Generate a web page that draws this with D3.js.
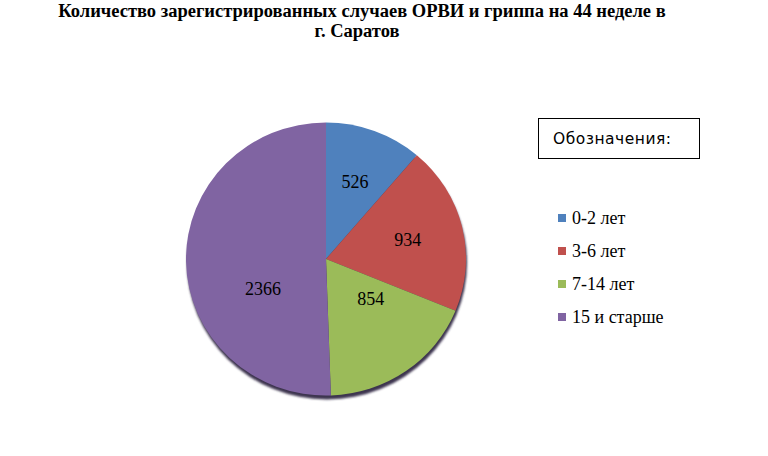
<!DOCTYPE html>
<html>
<head>
<meta charset="utf-8">
<script src="https://cdn.jsdelivr.net/npm/d3@7"></script>
<style>
  body { margin: 0; background: #fff; }
  svg { display: block; }
</style>
</head>
<body>
<script>
// chart data
const categories = ["0-2 лет", "3-6 лет", "7-14 лет", "15 и старше"];
const values = [526, 934, 854, 2366];
const colors = ["#4f81bd", "#c0504d", "#9bbb59", "#8064a2"];
const titleLines = ["Количество зарегистрированных случаев ОРВИ и гриппа на 44 неделе в", "г. Саратов"];
const legendTitle = "Обозначения:";

// label placement: fraction of radius, angle shift (deg) -- mimics excel "best fit"
const labelFrac = [0.6, 0.6, 0.43, 0.5];
const labelShift = [0, 0, -13, -25];

const W = 768, H = 456;
const cx = 326, cy = 259, r = 140;

const svg = d3.select("body").append("svg")
    .attr("width", W)
    .attr("height", H);

const defs = svg.append("defs");
defs.append("filter").attr("id", "blur")
    .append("feGaussianBlur").attr("stdDeviation", 1.2);

// title
svg.append("g").selectAll("text")
    .data(titleLines)
    .join("text")
    .attr("x", (d, i) => i == 0 ? 362 : 357)
    .attr("y", (d, i) => 17 + i * 20)
    .attr("text-anchor", "middle")
    .style("font-family", "'Liberation Serif', 'Times New Roman', serif")
    .style("font-weight", "bold")
    .style("font-size", "18.5px")
    .text(d => d);

const pie = d3.pie().sort(null).value(d => d)(values);
const arc = d3.arc().innerRadius(0).outerRadius(r);

const g = svg.append("g")
    .attr("transform", `translate(${cx},${cy}) scale(1,0.975)`);

// thin dark rim below, like the bevel of the original
g.append("ellipse")
    .attr("cx", 1).attr("cy", 4)
    .attr("rx", r).attr("ry", r)
    .attr("fill", "#3d3450")
    .attr("filter", "url(#blur)");

g.selectAll("path.slice")
    .data(pie)
    .join("path")
    .attr("class", "slice")
    .attr("d", arc)
    .attr("fill", (d, i) => colors[i]);

// labels
g.selectAll("text.lbl")
    .data(pie)
    .join("text")
    .attr("class", "lbl")
    .attr("transform", (d, i) => {
        let a = (d.startAngle + d.endAngle) / 2 + labelShift[i] * Math.PI / 180;
        let rr = r * labelFrac[i];
        return `translate(${Math.sin(a) * rr},${-Math.cos(a) * rr}) scale(1,${1 / 0.975})`;
    })
    .attr("text-anchor", "middle")
    .attr("dy", "0.35em")
    .style("font-family", "'Liberation Serif', 'Times New Roman', serif")
    .style("font-size", "18px")
    .text(d => d.data);

// legend title box
svg.append("rect")
    .attr("x", 538.5).attr("y", 118.5)
    .attr("width", 161).attr("height", 40)
    .attr("fill", "#fff")
    .attr("stroke", "#000")
    .attr("stroke-width", 1);
svg.append("text")
    .attr("x", 553).attr("y", 144)
    .style("font-family", "'DejaVu Sans', sans-serif")
    .style("font-size", "15.5px")
    .style("letter-spacing", "0.5px")
    .text(legendTitle);

const ly = d3.scalePoint().domain(categories).range([218, 317]);
const leg = svg.append("g").selectAll("g")
    .data(categories)
    .join("g")
    .attr("transform", d => `translate(558,${ly(d)})`);
leg.append("rect")
    .attr("x", 0).attr("y", -4)
    .attr("width", 8).attr("height", 8)
    .attr("fill", (d, i) => colors[i]);
leg.append("text")
    .attr("x", 14).attr("dy", "0.35em")
    .style("font-family", "'Liberation Serif', 'Times New Roman', serif")
    .style("font-size", "18px")
    .text(d => d);
</script>
</body>
</html>
